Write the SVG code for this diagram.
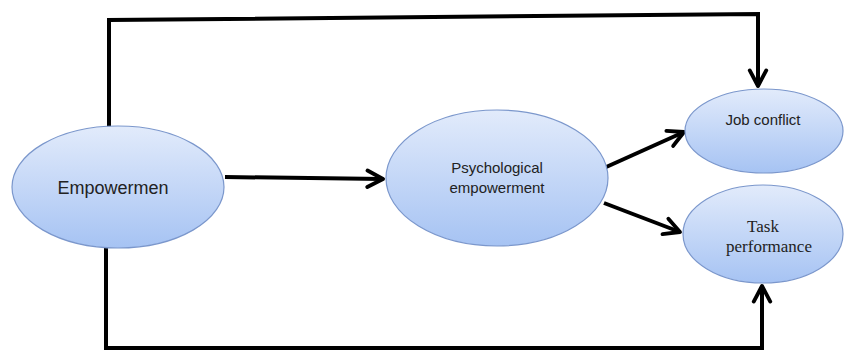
<svg xmlns="http://www.w3.org/2000/svg" width="844" height="351" viewBox="0 0 844 351">
<defs>
<linearGradient id="g" x1="0" y1="0" x2="0" y2="1">
<stop offset="0" stop-color="#e2ebfb"/>
<stop offset="1" stop-color="#a6c3f3"/>
</linearGradient>
<marker id="ah" viewBox="0 0 12 12" refX="10" refY="6" markerWidth="5.5" markerHeight="5.5" orient="auto" markerUnits="strokeWidth">
<path d="M1.5,1.5 L10,6 L1.5,10.5" fill="none" stroke="#000" stroke-width="2.1" stroke-linecap="round" stroke-linejoin="round"/>
</marker>
<style>
.n{fill:url(#g);stroke:#7b97cc;stroke-width:1.2}
.c{fill:none;stroke:#000;stroke-width:4;stroke-linejoin:miter}
.s{font-family:"Liberation Sans",Arial,sans-serif;fill:#222;text-anchor:middle}
.t{font-family:"Liberation Serif","Times New Roman",serif;fill:#222;text-anchor:middle}
</style>
</defs>
<rect width="844" height="351" fill="#fff"/>
<g id="connectors">
<path class="c" d="M109,127 L109,20 L758,14 L758,86" marker-end="url(#ah)"/>
<path class="c" d="M106,248 L106,348 L762,348 L762,286" marker-end="url(#ah)"/>
<path class="c" d="M225,177 L383,179" marker-end="url(#ah)"/>
<path class="c" d="M604,168 L684,132" marker-end="url(#ah)"/>
<path class="c" d="M604,203 L680,232" marker-end="url(#ah)"/>
</g>
<g id="empowermen">
<ellipse class="n" cx="118" cy="187" rx="106" ry="61"/>
<text class="s" x="113" y="194" font-size="18">Empowermen</text>
</g>
<g id="psychological">
<ellipse class="n" cx="497" cy="178" rx="111" ry="68"/>
<text class="s" x="497" y="173" font-size="15">Psychological</text>
<text class="s" x="497" y="193" font-size="15">empowerment</text>
</g>
<g id="job-conflict">
<ellipse class="n" cx="764" cy="131" rx="79" ry="42"/>
<text class="s" x="763" y="125" font-size="15">Job conflict</text>
</g>
<g id="task-performance">
<ellipse class="n" cx="763" cy="234" rx="80" ry="49"/>
<text class="t" x="763" y="232" font-size="17">Task</text>
<text class="t" x="769" y="252" font-size="17">performance</text>
</g>
</svg>
